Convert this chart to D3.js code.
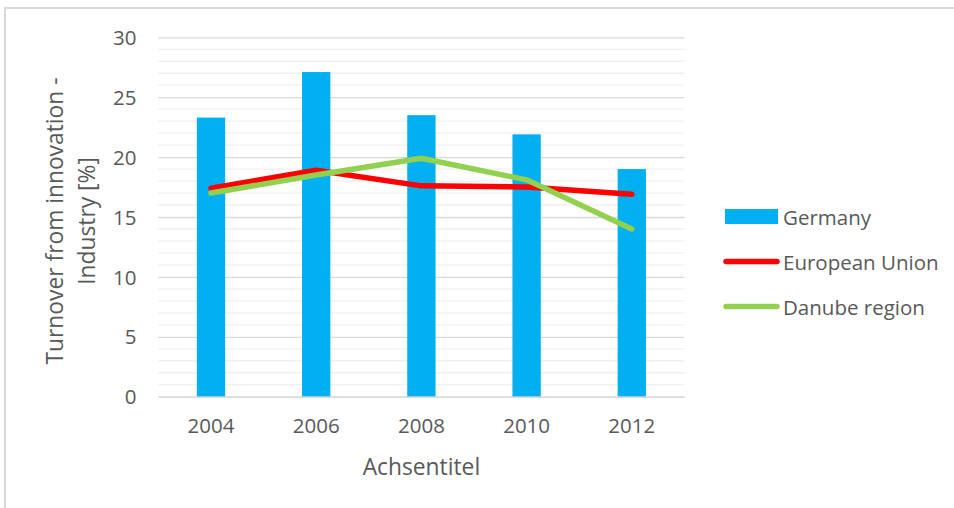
<!DOCTYPE html>
<html>
<head>
<meta charset="utf-8">
<script src="https://cdn.jsdelivr.net/npm/d3@7"></script>
<style>
  html, body { margin: 0; padding: 0; background: #fff; }
  svg text { font-family: "Open Sans", sans-serif; fill: #595959; }
</style>
</head>
<body>
<svg id="chart" width="954" height="508"></svg>
<script>
// Turnover from innovation, industry [%]
const years = ["2004", "2006", "2008", "2010", "2012"];
const germany = [23.3, 27.1, 23.5, 21.9, 19.0];
const europeanUnion = [17.4, 18.9, 17.6, 17.5, 16.9];
const danubeRegion = [17.0, 18.5, 19.9, 18.1, 14.0];
const yTicks = [0, 5, 10, 15, 20, 25, 30];
const seriesNames = ["Germany", "European Union", "Danube region"];
const seriesColors = ["#00b0f0", "#ff0000", "#92d050"];

const svg = d3.select("#chart");
const fontSize = 20.5;      // tick and legend labels
const titleSize = 22.8;     // axis titles

// outer frame of the chart area
svg.append("rect")
  .attr("x", 5).attr("y", 8)
  .attr("width", 1000).attr("height", 600)
  .attr("fill", "none")
  .attr("stroke", "#d9d9d9")
  .attr("stroke-width", 2);

const plot = { left: 158.4, right: 684.4, top: 37.3, bottom: 396.7 };

const x = d3.scaleBand().domain(years).range([plot.left, plot.right]);
const y = d3.scaleLinear().domain([0, 30]).range([plot.bottom, plot.top]);

// minor gridlines (every unit)
const minor = d3.range(1, 30).filter(v => v % 5 !== 0);
svg.append("g").selectAll("line").data(minor).join("line")
  .attr("x1", plot.left).attr("x2", plot.right)
  .attr("y1", d => y(d)).attr("y2", d => y(d))
  .attr("stroke", "#f0f0f0").attr("stroke-width", 1.3);

// major gridlines + tick labels via a left axis
const yAxis = d3.axisLeft(y).tickValues(yTicks).tickSize(-(plot.right - plot.left)).tickPadding(22);
const yg = svg.append("g").attr("transform", `translate(${plot.left},0)`).call(yAxis);
yg.select(".domain").remove();
yg.selectAll(".tick line").attr("stroke", "#d9d9d9").attr("stroke-width", 1.3);
yg.selectAll(".tick text")
  .attr("font-size", fontSize)
  .attr("font-family", "Open Sans, sans-serif")
  .attr("fill", "#595959")
  .attr("dy", "0.35em");

// Germany bars
const barW = 28.3;
svg.append("g").selectAll("rect").data(germany).join("rect")
  .attr("x", (d, i) => x(years[i]) + x.bandwidth() / 2 - barW / 2)
  .attr("width", barW)
  .attr("y", d => y(d))
  .attr("height", d => y(0) - y(d))
  .attr("fill", seriesColors[0]);

// category axis at the bottom
const xAxis = d3.axisBottom(x).tickSize(0).tickPadding(22);
const xg = svg.append("g").attr("transform", `translate(0,${plot.bottom})`).call(xAxis);
xg.select(".domain").attr("stroke", "#d9d9d9").attr("stroke-width", 1.3);
xg.selectAll(".tick text")
  .attr("font-size", fontSize)
  .attr("font-family", "Open Sans, sans-serif")
  .attr("fill", "#595959");

// line series
const line = d3.line()
  .x((d, i) => x(years[i]) + x.bandwidth() / 2)
  .y(d => y(d));

[europeanUnion, danubeRegion].forEach((vals, k) => {
  svg.append("path")
    .datum(vals)
    .attr("d", line)
    .attr("fill", "none")
    .attr("stroke", seriesColors[k + 1])
    .attr("stroke-width", 5.5)
    .attr("stroke-linecap", "round")
    .attr("stroke-linejoin", "round");
});

// axis titles
svg.append("text")
  .attr("x", (plot.left + plot.right) / 2)
  .attr("y", 466)
  .attr("text-anchor", "middle")
  .attr("dominant-baseline", "central")
  .attr("font-size", titleSize)
  .text("Achsentitel");

const yTitle = svg.append("text")
  .attr("transform", "translate(0,221) rotate(-90)")
  .attr("text-anchor", "middle")
  .attr("font-size", titleSize);
yTitle.append("tspan").attr("x", 0).attr("y", 63).text("Turnover from innovation -");
yTitle.append("tspan").attr("x", 0).attr("y", 95).text("Industry [%]");

// legend
const legend = svg.append("g");
seriesNames.forEach((name, i) => {
  const cy = 216.5 + i * 45;
  if (i === 0) {
    legend.append("rect")
      .attr("x", 725).attr("y", cy - 7.5)
      .attr("width", 53).attr("height", 15)
      .attr("fill", seriesColors[i]);
  } else {
    legend.append("line")
      .attr("x1", 726).attr("x2", 777)
      .attr("y1", cy).attr("y2", cy)
      .attr("stroke", seriesColors[i])
      .attr("stroke-width", 5.5)
      .attr("stroke-linecap", "round");
  }
  legend.append("text")
    .attr("x", 783).attr("y", cy)
    .attr("dominant-baseline", "central")
    .attr("font-size", fontSize)
    .text(name);
});
</script>
</body>
</html>
